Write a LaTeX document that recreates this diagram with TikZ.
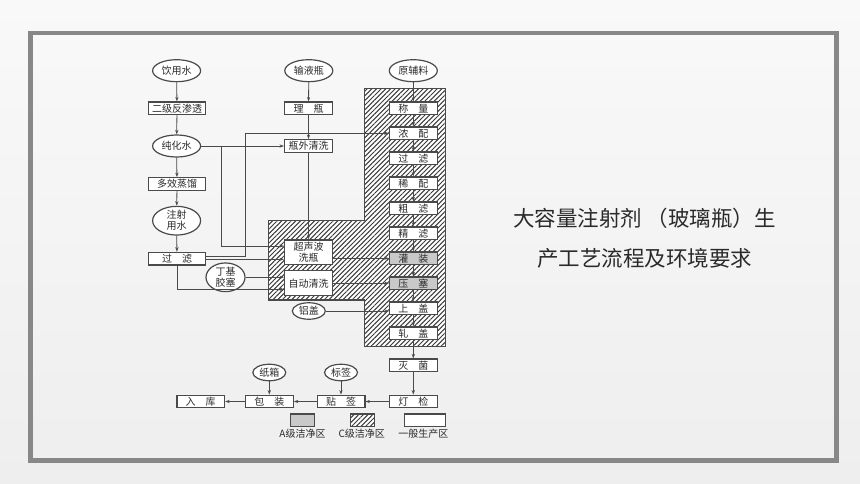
\documentclass[tikz,border=0pt]{standalone}
\usepackage{fontspec}
\setmainfont{Noto Sans CJK SC}
\usetikzlibrary{shapes.geometric,arrows.meta,patterns.meta,positioning}
\definecolor{ln}{HTML}{4A4A4A}
\definecolor{hl}{HTML}{3A3A3A}
\definecolor{txt}{HTML}{2A2A2A}
\definecolor{agrey}{HTML}{C9C9C9}
\definecolor{frm}{HTML}{888888}
\definecolor{bgtop}{HTML}{F9F9F9}
\definecolor{bgbot}{HTML}{EEEEEE}
\begin{document}
\begin{tikzpicture}[x = 1pt, y = -1pt, line width = .8, draw = ln, >= {Stealth[length = 4.5pt, width = 3.2pt]},
box/.style = {draw = ln, line width = 1.3, fill = white, minimum width = 47.7, minimum height = 12.5, inner sep = 0, text = txt, align = center, font = \fontsize{10}{11}\selectfont},
lbox/.style = {box, minimum width = 56.5},
oval/.style = {ellipse, draw = ln, line width = 1.2, fill = white, minimum width = 48, minimum height = 22, inner sep = 0, text = txt, align = center, font = \fontsize{10}{11}\selectfont},
hatch/.style = {preaction = {fill = white}, pattern = {Lines[angle = 45, distance = 3.3pt, line width = 1pt]}, pattern color = hl},
legend/.style = {text = txt, font = \fontsize{10}{11}\selectfont},
title/.style = {text = txt, font = \fontsize{21.5}{24}\selectfont}]
\useasboundingbox (0,0) rectangle (860,484);
\shade[top color = bgtop, bottom color = bgbot] (0,0) rectangle (860,484);
\draw[frm, line width = 4.4] (30.3,33.3) rectangle (836.3,460.5);
\draw[hatch, line width = 1.2] (364.8,88.5) -- (445.5,88.5) -- (445.5,346.3) -- (364.8,346.3) -- (364.8,300) -- (268.6,300) -- (268.6,220.5) -- (364.8,220.5) -- cycle;
\node[oval] (yys) at (176.6,70.7) {饮用水};
\node[oval] (syp) at (308.8,70.7) {输液瓶};
\node[oval] (yfl) at (413.3,70.7) {原辅料};
\node[lbox] (ejf) at (177,108.3) {二级反渗透};
\node[box] (lp) at (308.5,108.3) {理\quad 瓶};
\node[oval] (chs) at (176.6,146) {纯化水};
\node[box] (pwqx) at (308.5,146) {瓶外清洗};
\node[lbox] (dxzl) at (177,184) {多效蒸馏};
\node[oval, minimum height = 25] (zsys) at (176.6,220.7) {注射\\用水};
\node[lbox] (glz) at (177,258.7) {过\quad 滤};
\node[box, minimum height = 24.5] (csb) at (308.5,252.3) {超声波\\洗瓶};
\node[box, minimum height = 25] (zdqx) at (308.5,283.3) {自动清洗};
\node[oval, minimum width = 39] (djjs) at (225.5,277.3) {丁基\\胶塞};
\node[oval, minimum width = 33, minimum height = 16.5] (lg) at (308.8,311) {铝盖};
\foreach \t/\f [count = \i] in {称\quad 量/white, 浓\quad 配/white, 过\quad 滤/white, 稀\quad 配/white, 粗\quad 滤/white, 精\quad 滤/white, 灌\quad 装/agrey, 压\quad 塞/agrey, 上\quad 盖/white, 轧\quad 盖/white}
\node[box, fill = \f] (r\i) at (413.3,83.3+25*\i) {\t};
\node[box] (mj) at (413.3,365.3) {灭\quad 菌};
\node[box] (dj) at (413.3,401.5) {灯\quad 检};
\node[box] (tq) at (341,401.5) {贴\quad 签};
\node[box] (bz) at (269.3,401.5) {包\quad 装};
\node[box] (rk) at (200.7,401.5) {入\quad 库};
\node[oval, minimum width = 33, minimum height = 16.5] (zx) at (269.3,372.5) {纸箱};
\node[oval, minimum width = 33, minimum height = 16.5] (bq) at (341,372.5) {标签};
\draw[->] (yys) -- (ejf);
\draw[->] (ejf) -- (chs);
\draw[->] (chs) -- (dxzl);
\draw[->] (dxzl) -- (zsys);
\draw[->] (zsys) -- (glz);
\draw[->] (syp) -- (lp);
\draw[->] (lp) -- (pwqx);
\draw[->] (pwqx) -- (csb);
\draw[->] (yfl) -- (r1);
\foreach \i [count = \j from 2] in {1,...,9}
\draw[->] (r\i) -- (r\j);
\draw[->] (r10) -- (mj);
\draw[->] (mj) -- (dj);
\draw[->] (dj) -- (tq);
\draw[->] (tq) -- (bz);
\draw[->] (bz) -- (rk);
\draw[->] (zx) -- (bz);
\draw[->] (bq) -- (tq);
\draw[->] (chs) -- (pwqx);
\coordinate (cb) at (221,146);
\draw[->] (cb) |- ([yshift = 6.3pt]csb.west);
\coordinate (gu) at (245,133.3);
\draw[->] ([yshift = 2pt]glz.east) -| (gu) -- (r2.west);
\draw[->] ([yshift = -.6pt]glz.east) -- ([yshift = -7pt]csb.west);
\draw[->] (glz.south) |- ([yshift = -6pt]zdqx.west);
\draw[->] (djjs) -- ([yshift = 6pt]zdqx.west);
\draw[->] ([yshift = -6pt]csb.east) -- (r7.west);
\draw[->] (zdqx) -- (r8);
\draw[->] (lg) -- (lg -| r9.west);
\node[box, fill = agrey, minimum width = 24] (la) at (302.2,420.3) {};
\node[box, hatch, minimum width = 24] (lc) at (362.6,420.3) {};
\node[box, minimum width = 40.6] (lw) at (425.1,420.3) {};
\node[legend] (lat) at (302.5,433.3) {A级洁净区};
\node[legend] (lct) at (361.7,433.3) {C级洁净区};
\node[legend] (lwt) at (423.3,433.3) {一般生产区};
\node[title] (t1) at (644.5,218.5) {大容量注射剂 （玻璃瓶）生};
\node[title] (t2) at (644.5,258.3) {产工艺流程及环境要求};
\end{tikzpicture}
\end{document}
